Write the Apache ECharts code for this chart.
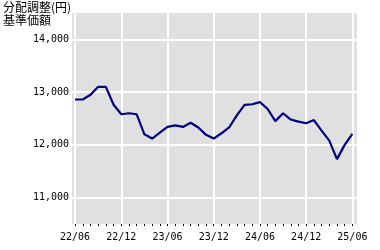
<!DOCTYPE html>
<html><head><meta charset="utf-8">
<script src="https://cdn.jsdelivr.net/npm/echarts@6/dist/echarts.min.js"></script>
<style>html,body{margin:0;padding:0;background:#fff}#c{width:380px;height:250px}</style>
</head><body><div id="c"></div>
<script>
// month index 0 = 2022/06 ... 36 = 2025/06
var months = [0,1,2,3,4,5,6,7,8,9,10,11,12,13,14,15,16,17,18,19,20,21,22,23,24,25,26,27,28,29,30,31,32,33,34,35,36];
var navValues = [12860,12860,12950,13100,13100,12760,12580,12600,12580,12200,12120,12230,12340,12370,12340,12420,12330,12190,12120,12220,12330,12560,12760,12770,12810,12680,12450,12600,12480,12440,12410,12470,12270,12080,11730,12000,12210];
var xTickPos = [0,6,12,18,24,30,36];
var xTickLabels = ['22/06','22/12','23/06','23/12','24/06','24/12','25/06'];
var yTicks = [11000,12000,13000,14000];

var chart = echarts.init(document.getElementById('c'), null, {renderer:'canvas'});
var gridLines = [];
yTicks.forEach(function(v){ gridLines.push({yAxis:v}); });
xTickPos.forEach(function(v){ gridLines.push({xAxis:v}); });

chart.setOption({
  animation:false,
  backgroundColor:'#fff',
  title:{text:'分配調整(円)\n基準価額', left:3, top:1, padding:0,
    textStyle:{fontFamily:'Noto Sans CJK JP', fontSize:12, fontWeight:'normal', color:'#000', lineHeight:13}},
  grid:{left:72, right:23, top:13, bottom:26, show:true, backgroundColor:'#e0e0e0', borderWidth:0},
  xAxis:{type:'value', min:-0.4, max:36.6,
    axisLine:{show:false},
    axisTick:{show:true, length:2, customValues:months, lineStyle:{color:'#000', width:1}},
    axisLabel:{customValues:xTickPos, formatter:function(v){return xTickLabels[xTickPos.indexOf(Math.round(v))]||'';},
      fontFamily:'DejaVu Sans Mono', fontSize:10, color:'#000', margin:8},
    splitLine:{show:false}},
  yAxis:{type:'value', min:10500, max:14500,
    axisLine:{show:false}, axisTick:{show:false},
    axisLabel:{customValues:yTicks, formatter:function(v){return v.toLocaleString('en-US');},
      fontFamily:'DejaVu Sans Mono', fontSize:10, color:'#000', margin:3},
    splitLine:{show:false}},
  series:[
    {type:'line', data:[], z:1, silent:true,
      markLine:{silent:true, symbol:'none', label:{show:false}, animation:false,
        lineStyle:{color:'#fff', width:2, type:'solid'}, data:gridLines}},
    {type:'line', z:5, showSymbol:false, symbol:'none',
      data:months.map(function(m,i){return [m, navValues[i]];}),
      lineStyle:{color:'#000080', width:2.2}}
  ]
});
</script></body></html>
